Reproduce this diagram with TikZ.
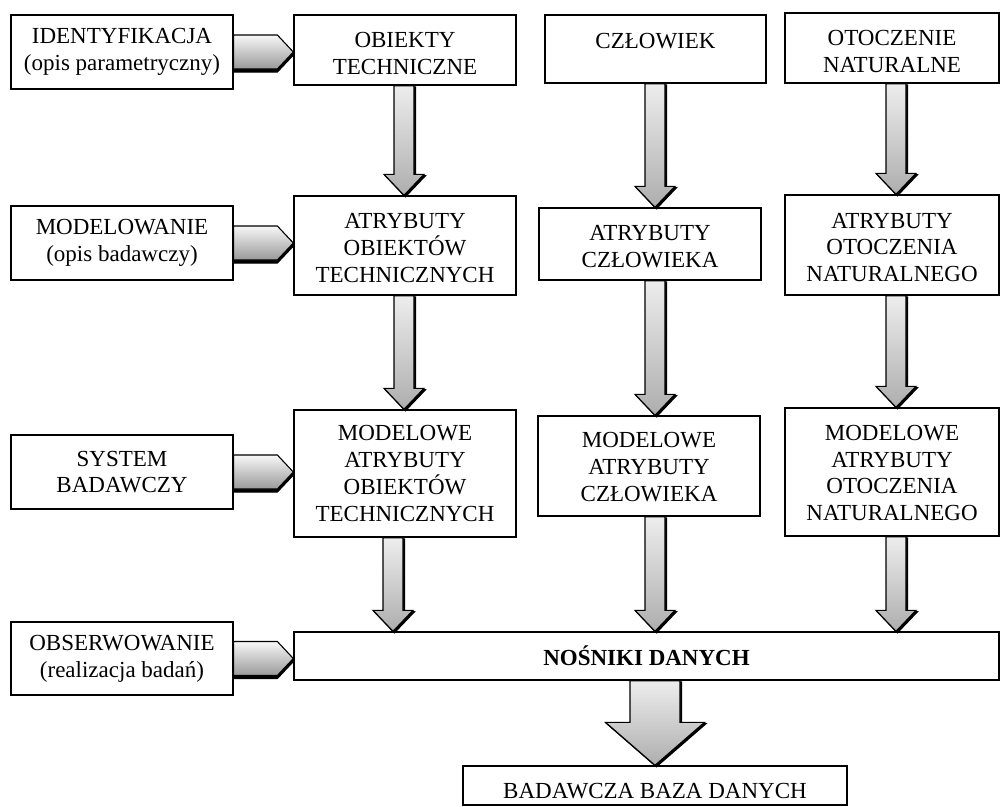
\documentclass[tikz,border=0pt]{standalone}
\usepackage{fontspec}
\setmainfont{Liberation Serif}
\usetikzlibrary{calc}

\newdimen\arrya
\newdimen\arryb
\newdimen\arrxa
\newdimen\arrxb

\tikzset{
  box/.style={draw=black, line width=1.3pt, fill=white, inner sep=0pt,
    align=center, font=\fontsize{23pt}{26.7pt}\selectfont},
  colshade/.style={draw=black, line width=1.2pt, line join=miter,
    top color=black!7, bottom color=black!32},
  sideshade/.style={draw=black, line width=1.1pt, line join=miter,
    top color=black!3, bottom color=black!40},
  dropshadow/.style={fill=black, draw=black, line width=1.2pt, line join=miter},
}

% invisible strut that lowers the text block inside a box
\newcommand{\lowr}[1]{\rule{0pt}{#1}}

% vertical block arrow: x position, source node, target node
\def\colpath#1{(#1pt-10pt,\arrya) -- (#1pt+10pt,\arrya) -- (#1pt+10pt,\arryb+21pt)
  -- (#1pt+20pt,\arryb+21pt) -- (#1pt,\arryb) -- (#1pt-20pt,\arryb+21pt)
  -- (#1pt-10pt,\arryb+21pt) -- cycle}
\newcommand{\colarrow}[3]{%
  \pgfextracty{\arrya}{\pgfpointanchor{#2}{south}}%
  \pgfextracty{\arryb}{\pgfpointanchor{#3}{north}}%
  \path[dropshadow, xshift=1.4pt, yshift=-1.4pt] \colpath{#1};
  \path[colshade] \colpath{#1};
}

% wide block arrow below the data carriers
\def\bigpath#1{(#1pt-25pt,\arrya) -- (#1pt+25pt,\arrya) -- (#1pt+25pt,\arryb+43pt)
  -- (#1pt+49.5pt,\arryb+43pt) -- (#1pt,\arryb) -- (#1pt-49.5pt,\arryb+43pt)
  -- (#1pt-25pt,\arryb+43pt) -- cycle}
\newcommand{\bigarrow}[3]{%
  \pgfextracty{\arrya}{\pgfpointanchor{#2}{south}}%
  \pgfextracty{\arryb}{\pgfpointanchor{#3}{north}}%
  \path[dropshadow, xshift=1.4pt, yshift=-1.4pt] \bigpath{#1};
  \path[colshade] \bigpath{#1};
}

% horizontal chevron arrow from a stage box to the row it acts on
\def\sidepath{(\arrxa,\arrya+17pt) -- (\arrxb-16pt,\arrya+17pt) -- (\arrxb,\arrya)
  -- (\arrxb-16pt,\arrya-17pt) -- (\arrxa,\arrya-17pt) -- cycle}
\newcommand{\sidearrow}[2]{%
  \pgfextractx{\arrxa}{\pgfpointanchor{#1}{east}}%
  \pgfextracty{\arrya}{\pgfpointanchor{#1}{east}}%
  \pgfextractx{\arrxb}{\pgfpointanchor{#2}{west}}%
  \path[dropshadow, yshift=-3pt] \sidepath;
  \path[sideshade] \sidepath;
}

\begin{document}
\begin{tikzpicture}[x=1pt, y=-1pt]
\useasboundingbox (0,0) rectangle (1000,806);

% stages of the research process
\node[box, minimum width=222pt, minimum height=74pt] (id)  at (122,52)    {IDENTYFIKACJA\\(opis parametryczny)};
\node[box, minimum width=222pt, minimum height=74pt] (mod) at (122,243)   {MODELOWANIE\\(opis badawczy)};
\node[box, minimum width=222pt, minimum height=74pt] (sys) at (122,472)   {SYSTEM\\BADAWCZY};
\node[box, minimum width=222pt, minimum height=73pt] (obs) at (122,658.5) {OBSERWOWANIE\\(realizacja badań)};

% objects of study
\node[box, minimum width=222pt, minimum height=70pt] (ob) at (405,50)   {\lowr{22pt}OBIEKTY\\TECHNICZNE};
\node[box, minimum width=221pt, minimum height=68pt] (cz) at (655.5,49) {\lowr{25pt}CZŁOWIEK\\\phantom{X}};
\node[box, minimum width=214pt, minimum height=70pt] (ot) at (892,48)   {\lowr{22pt}OTOCZENIE\\NATURALNE};

% attributes
\node[box, minimum width=222pt, minimum height=99pt]  (aob) at (405,245.5) {\lowr{20pt}ATRYBUTY\\OBIEKTÓW\\TECHNICZNYCH};
\node[box, minimum width=222pt, minimum height=72pt]  (acz) at (650,244)   {\lowr{20pt}ATRYBUTY\\CZŁOWIEKA};
\node[box, minimum width=214pt, minimum height=100pt] (aot) at (892,245)   {\lowr{20pt}ATRYBUTY\\OTOCZENIA\\NATURALNEGO};

% model attributes
\node[box, minimum width=222pt, minimum height=127pt] (mob) at (405,473.5) {MODELOWE\\ATRYBUTY\\OBIEKTÓW\\TECHNICZNYCH};
\node[box, minimum width=222pt, minimum height=100pt] (mcz) at (649,466)   {\lowr{17pt}MODELOWE\\ATRYBUTY\\CZŁOWIEKA};
\node[box, minimum width=214pt, minimum height=128pt] (mot) at (892,472)   {\lowr{17pt}MODELOWE\\ATRYBUTY\\OTOCZENIA\\NATURALNEGO};

% data carriers and database
\node[box, minimum width=705pt, minimum height=48pt] (nos) at (646.5,656) {\bfseries NOŚNIKI DANYCH};
\node[box, minimum width=384pt, minimum height=39pt, text height=25pt, text depth=0pt] (baza) at (655,785.5) {BADAWCZA BAZA DANYCH};

% flows down each column
\colarrow{404}{ob}{aob}
\colarrow{404}{aob}{mob}
\colarrow{393}{mob}{nos}
\colarrow{655}{cz}{acz}
\colarrow{655}{acz}{mcz}
\colarrow{655}{mcz}{nos}
\colarrow{896}{ot}{aot}
\colarrow{896}{aot}{mot}
\colarrow{896}{mot}{nos}
\bigarrow{655}{nos}{baza}

% stage arrows
\sidearrow{id}{ob}
\sidearrow{mod}{aob}
\sidearrow{sys}{mob}
\sidearrow{obs}{nos}
\end{tikzpicture}
\end{document}
